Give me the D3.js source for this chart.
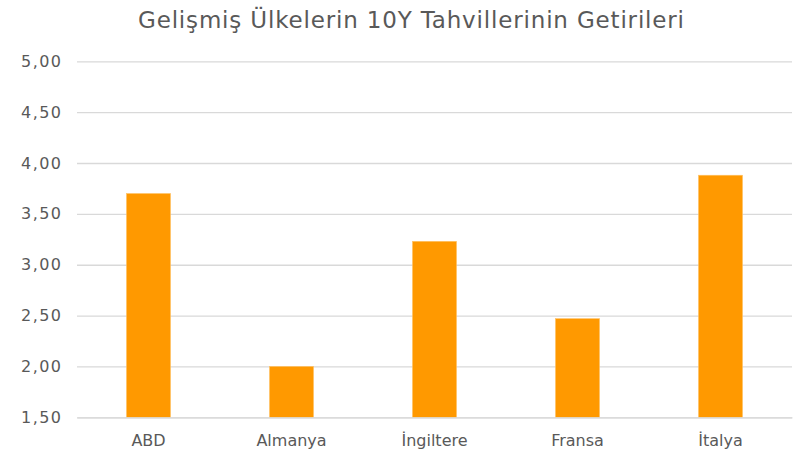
<!DOCTYPE html>
<html>
<head>
<meta charset="utf-8">
<script src="https://cdn.jsdelivr.net/npm/d3@7"></script>
<style>
  body { margin: 0; background: #fff; }
  text { font-family: "DejaVu Sans", sans-serif; fill: #595959; }
</style>
</head>
<body>
<div class="svg-container"></div>
<script>
// data
const countries = ["ABD", "Almanya", "İngiltere", "Fransa", "İtalya"];
const yields = [3.70, 2.00, 3.23, 2.47, 3.88];
const yTicks = [1.5, 2.0, 2.5, 3.0, 3.5, 4.0, 4.5, 5.0];
const title = "Gelişmiş Ülkelerin 10Y Tahvillerinin Getirileri";

const w = 796;
const h = 453;
const padLeft = 77, padRight = 792, padTop = 61.3, padBottom = 417.3;

const svg = d3.select(".svg-container")
  .append("svg")
  .attr("width", w)
  .attr("height", h);

// XSCALE
const xScale = d3.scaleBand()
  .domain(countries)
  .range([padLeft, padRight])
  .paddingInner(0.692)
  .paddingOuter(0.346);

// YSCALE
const yScale = d3.scaleLinear()
  .domain([1.5, 5])
  .range([padBottom, padTop]);

const fmt = d => d.toFixed(2).replace(".", ",");

// gridlines
const yAxis = d3.axisLeft(yScale)
  .tickValues(yTicks)
  .tickSize(-(padRight - padLeft))
  .tickPadding(16)
  .tickFormat(fmt);

const gy = svg.append("g")
  .attr("transform", "translate(" + padLeft + ",0)")
  .call(yAxis);
gy.select(".domain").remove();
gy.selectAll(".tick line")
  .attr("stroke", "#d9d9d9")
  .attr("stroke-width", 1.3);
gy.selectAll(".tick text")
  .attr("font-size", 16)
  .attr("textLength", 40)
  .style("font-family", "DejaVu Sans, sans-serif")
  .attr("fill", "#595959");

// bars
svg.selectAll("rect.bar")
  .data(yields)
  .enter()
  .append("rect")
  .attr("class", "bar")
  .attr("x", (d, i) => xScale(countries[i]))
  .attr("width", xScale.bandwidth())
  .attr("y", d => yScale(d))
  .attr("height", d => yScale(1.5) - yScale(d))
  .attr("fill", "#ff9900")
  .attr("stroke", "#ffc266")
  .attr("stroke-width", 0.6);

// x axis
const xAxis = d3.axisBottom(xScale).tickSize(0).tickPadding(17);
const gx = svg.append("g")
  .attr("transform", "translate(0," + padBottom + ")")
  .call(xAxis);
gx.select(".domain")
  .attr("stroke", "#d9d9d9")
  .attr("stroke-width", 1.3);
gx.selectAll(".tick text")
  .attr("font-size", 16)
  .style("font-family", "DejaVu Sans, sans-serif")
  .attr("fill", "#595959");

// title
svg.append("text")
  .attr("x", 411)
  .attr("y", 28)
  .attr("text-anchor", "middle")
  .attr("font-size", 23)
  .attr("textLength", 546)
  .text(title);
</script>
</body>
</html>
